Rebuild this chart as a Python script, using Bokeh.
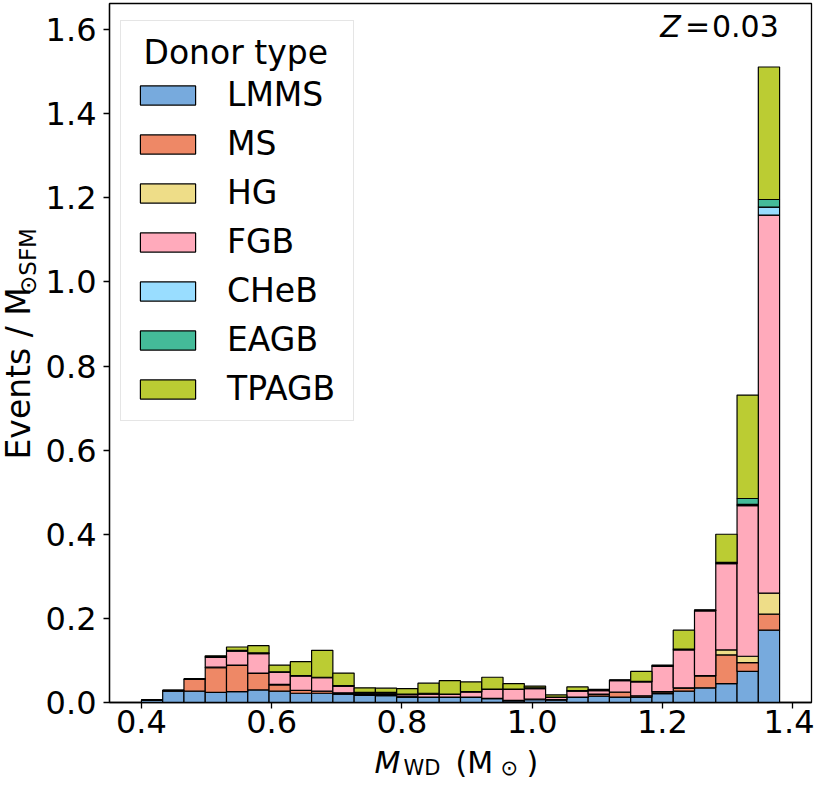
import numpy as np
from bokeh.plotting import figure
from bokeh.models import (ColumnDataSource, Range1d, FixedTicker, NumeralTickFormatter,
                          Legend, LegendItem)
from bokeh.layouts import column, row
from bokeh.core.properties import value
from bokeh.embed import file_html
from bokeh.resources import INLINE

# ---------------- data ----------------
bin_lo, bin_hi, n_bins = 0.40, 1.38, 30
donor_types = ["LMMS", "MS", "HG", "FGB", "CHeB", "EAGB", "TPAGB"]
colors = ["#77aadd", "#ee8866", "#eedd88", "#ffaabb", "#99ddff", "#44bb99", "#bbcc33"]

LMMS = [0.006, 0.027, 0.027, 0.024, 0.026, 0.030, 0.027, 0.022, 0.022, 0.020,
        0.017, 0.016, 0.012, 0.012, 0.012, 0.012, 0.009, 0.004, 0.007, 0.006,
        0.012, 0.015, 0.013, 0.013, 0.021, 0.027, 0.035, 0.045, 0.074, 0.172]
MS = [0.000, 0.001, 0.028, 0.059, 0.062, 0.039, 0.015, 0.007, 0.005, 0.003,
      0.002, 0.002, 0.002, 0.001, 0.001, 0.001, 0.001, 0.001, 0.001, 0.001,
      0.001, 0.004, 0.012, 0.003, 0.004, 0.007, 0.028, 0.068, 0.021, 0.038]
HG = [0.000, 0.000, 0.000, 0.001, 0.001, 0.001, 0.001, 0.000, 0.000, 0.000,
      0.001, 0.001, 0.001, 0.000, 0.000, 0.000, 0.000, 0.000, 0.000, 0.000,
      0.000, 0.001, 0.000, 0.000, 0.001, 0.001, 0.001, 0.012, 0.015, 0.050]
FGB = [0.000, 0.001, 0.001, 0.023, 0.033, 0.046, 0.029, 0.034, 0.032, 0.016,
       0.002, 0.003, 0.004, 0.007, 0.006, 0.012, 0.021, 0.026, 0.025, 0.005,
       0.014, 0.008, 0.027, 0.033, 0.060, 0.090, 0.154, 0.205, 0.358, 0.899]
CHeB = [0.000, 0.000, 0.000, 0.001, 0.001, 0.001, 0.001, 0.001, 0.001, 0.001,
        0.001, 0.001, 0.001, 0.001, 0.001, 0.001, 0.001, 0.001, 0.001, 0.001,
        0.001, 0.001, 0.001, 0.001, 0.001, 0.001, 0.001, 0.001, 0.003, 0.019]
EAGB = [0.000, 0.000, 0.000, 0.001, 0.001, 0.001, 0.000, 0.000, 0.000, 0.000,
        0.001, 0.001, 0.000, 0.001, 0.000, 0.000, 0.000, 0.000, 0.001, 0.000,
        0.000, 0.000, 0.000, 0.000, 0.000, 0.001, 0.000, 0.002, 0.014, 0.018]
TPAGB = [0.000, 0.000, 0.000, 0.002, 0.008, 0.017, 0.016, 0.033, 0.064, 0.030,
         0.011, 0.010, 0.013, 0.024, 0.032, 0.023, 0.028, 0.013, 0.004, 0.005,
         0.009, 0.002, 0.000, 0.024, 0.002, 0.045, 0.001, 0.067, 0.246, 0.315]

x_ticks = [0.4, 0.6, 0.8, 1.0, 1.2, 1.4]
y_ticks = [0.0, 0.2, 0.4, 0.6, 0.8, 1.0, 1.2, 1.4, 1.6]
legend_title = "Donor type"
metallicity = "0.03"

# ---------------- layout geometry (canvas pixels) ----------------
FONT = "DejaVu Sans"
W, H = 814, 781
YLAB_W = 42
F_LEFT, F_RIGHT, F_TOP, F_BOTTOM = 106, 811, 3, 702
H1 = F_BOTTOM + 43             # height of the main figure
X0, X1 = 0.351, 1.429
Y0, Y1 = 0.0, 1.662
BASE_SHIFT = 0.38              # rendered baseline sits this many em below the anchor

bin_width = (bin_hi - bin_lo) / n_bins
centers = [bin_lo + (i + 0.5) * bin_width for i in range(n_bins)]

source = ColumnDataSource(dict(x=centers, LMMS=LMMS, MS=MS, HG=HG, FGB=FGB,
                               CHeB=CHeB, EAGB=EAGB, TPAGB=TPAGB))

p = figure(width=W - YLAB_W, height=H1, output_backend="svg", toolbar_location=None,
           x_range=Range1d(X0, X1), y_range=Range1d(Y0, Y1),
           min_border_left=F_LEFT - YLAB_W, min_border_right=W - F_RIGHT,
           min_border_top=F_TOP, min_border_bottom=H1 - F_BOTTOM)
p.background_fill_color = "white"
p.border_fill_color = "white"
p.outline_line_color = "black"
p.outline_line_width = 1.3
p.xgrid.visible = False
p.ygrid.visible = False

renderers = p.vbar_stack(donor_types, x="x", width=bin_width, source=source,
                         fill_color=colors, line_color="black", line_width=1.2)

for ax, ticks in ((p.xaxis, x_ticks), (p.yaxis, y_ticks)):
    ax.ticker = FixedTicker(ticks=ticks)
    ax.formatter = NumeralTickFormatter(format="0.0")
    ax.minor_tick_line_color = None
    ax.major_tick_in = 0
    ax.major_tick_out = 6
    ax.major_tick_line_width = 1.3
    ax.axis_line_width = 1.3
    ax.major_label_text_font = FONT
    ax.major_label_text_font_size = "32px"
    ax.major_label_text_color = "black"
p.xaxis.major_label_standoff = 1
p.yaxis.major_label_standoff = 7

items = [LegendItem(label=name, renderers=[r]) for name, r in zip(donor_types, renderers)]
legend = Legend(items=items, title="\u00a0" + legend_title, location=(11, F_BOTTOM - 421),
                orientation="vertical", margin=0, padding=12, spacing=10,
                glyph_width=69, glyph_height=24, label_standoff=25, label_height=38,
                label_width=114, title_standoff=3,
                label_text_font=FONT, label_text_font_size="33px", label_text_color="black",
                title_text_font=FONT, title_text_font_size="33px",
                title_text_font_style="normal", title_text_color="black",
                border_line_color="#cccccc", border_line_width=1,
                background_fill_color="white", background_fill_alpha=0.8)
p.add_layout(legend)

def fx(px):
    return X0 + (px - F_LEFT) * (X1 - X0) / (F_RIGHT - F_LEFT)

def fy(py):
    return Y0 + (F_BOTTOM - py) * (Y1 - Y0) / (F_BOTTOM - F_TOP)

def put(fig, txt, x, y, size, italic=False, angle=0.0):
    fig.text(x=[x], y=[y], text=[txt], angle=angle,
             text_font=value(FONT), text_font_size=value(f"{size}px"),
             text_font_style="italic" if italic else "normal",
             text_align="left", text_baseline="alphabetic", text_color="black")

# Z annotation (target baseline at canvas y = 37)
zb = 37 - BASE_SHIFT * 30
put(p, "Z", fx(659), fy(zb), 30, italic=True)
put(p, "=", fx(684), fy(zb), 30)
put(p, metallicity, fx(711), fy(zb), 30)

# ---------------- y-axis label strip ----------------
ylab = figure(width=YLAB_W, height=H1, output_backend="svg", toolbar_location=None,
              x_range=Range1d(0, YLAB_W), y_range=Range1d(0, H1),
              x_axis_type=None, y_axis_type=None, min_border=0)
ylab.outline_line_color = None
ylab.xgrid.visible = False
ylab.ygrid.visible = False
ylab.background_fill_color = "white"
ylab.border_fill_color = "white"
YL_MAIN, YL_SUB = 33, 23
y_start = 486                  # canvas y of the label's lower end
main_len = 5.222 * YL_MAIN + 3  # advance of "Events / M" plus a small gap
put(ylab, "Events / M", 31 - BASE_SHIFT * YL_MAIN, H1 - y_start, YL_MAIN, angle=np.pi / 2)
put(ylab, "\u2299SFM", 36 - BASE_SHIFT * YL_SUB, H1 - (y_start - main_len), YL_SUB,
    angle=np.pi / 2)

# ---------------- x-axis label strip ----------------
H2 = H - H1
xlab = figure(width=W, height=H2, output_backend="svg", toolbar_location=None,
              x_range=Range1d(0, W), y_range=Range1d(0, H2),
              x_axis_type=None, y_axis_type=None, min_border=0)
xlab.outline_line_color = None
xlab.xgrid.visible = False
xlab.ygrid.visible = False
xlab.background_fill_color = "white"
xlab.border_fill_color = "white"
XL_MAIN, XL_SUB = 30, 21
b_main = H - (773 - BASE_SHIFT * XL_MAIN)
b_sub = H - (775.5 - BASE_SHIFT * XL_SUB)
put(xlab, "M", 374, b_main, XL_MAIN, italic=True)
put(xlab, "WD", 403, b_sub, XL_SUB)
put(xlab, "(M", 455, b_main, XL_MAIN)
put(xlab, "\u2299", 500, b_sub, XL_SUB)
put(xlab, ")", 526, b_main, XL_MAIN)

layout = column(row(ylab, p), xlab)
open("out.html", "w").write(file_html(layout, INLINE))
